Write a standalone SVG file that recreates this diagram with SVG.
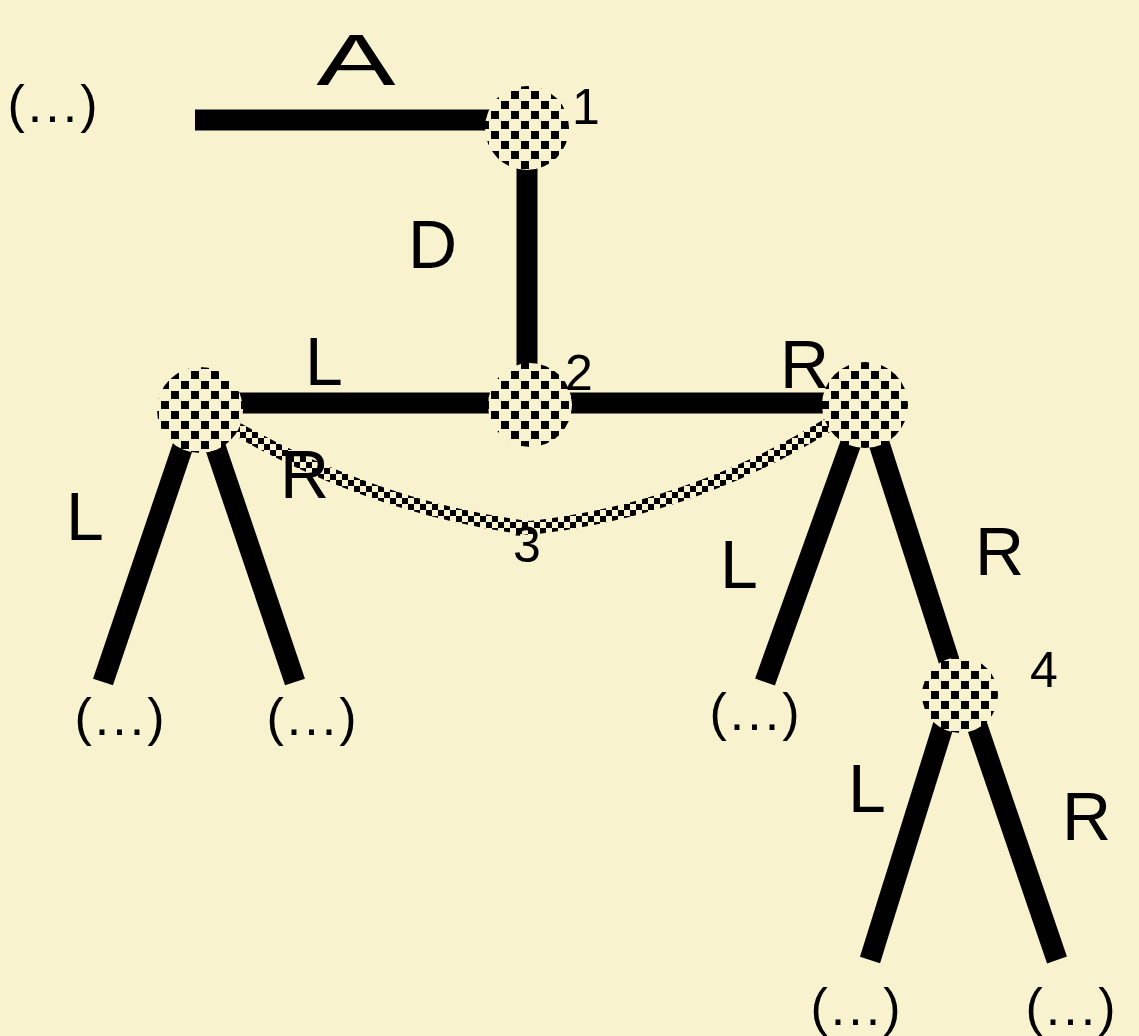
<svg xmlns="http://www.w3.org/2000/svg" width="1139" height="1036" viewBox="0 0 1139 1036">
<defs>
<pattern id="chk" width="20" height="20" patternUnits="userSpaceOnUse">
<rect width="20" height="20" fill="#f8f2cf"/>
<rect x="1" y="1" width="8" height="8" fill="#000"/>
<rect x="11" y="11" width="8" height="8" fill="#000"/>
</pattern>
<pattern id="chk2" width="12" height="12" patternUnits="userSpaceOnUse">
<rect width="12" height="12" fill="#f8f2cf"/>
<rect x="0" y="0" width="6" height="6" fill="#000"/>
<rect x="6" y="6" width="6" height="6" fill="#000"/>
</pattern>
<style>
.e{stroke:#000;stroke-width:21;fill:none}
.n{fill:url(#chk)}
text{font-family:"Liberation Sans","DejaVu Sans",sans-serif;fill:#000}
.big{font-size:68px}
.num{font-size:50px}
.dots{font-size:52px;letter-spacing:3px;text-anchor:middle}
</style>
</defs>
<rect width="1139" height="1036" fill="#f8f2cf"/>
<g id="connectors">
<line class="e" x1="195" y1="120" x2="500" y2="120"/>
<line class="e" x1="527" y1="160" x2="527" y2="385"/>
<line class="e" x1="230" y1="403" x2="840" y2="403"/>
<line class="e" x1="185" y1="440" x2="103" y2="682"/>
<line class="e" x1="213" y1="440" x2="295" y2="682"/>
<line class="e" x1="852" y1="440" x2="765" y2="682"/>
<line class="e" x1="878" y1="440" x2="952" y2="670"/>
<line class="e" x1="945" y1="720" x2="870" y2="960"/>
<line class="e" x1="975" y1="720" x2="1057" y2="960"/>
<path d="M235 428 Q380 510 530 528 Q690 510 828 425" stroke="url(#chk2)" stroke-width="14" fill="none"/>
</g>
<g id="node1"><circle class="n" cx="527" cy="128" r="42"/><text class="num" x="572" y="124">1</text></g>
<g id="node2"><circle class="n" cx="530" cy="405" r="42"/><text class="num" x="565" y="390">2</text></g>
<g id="nodeL"><circle class="n" cx="200" cy="410" r="43"/></g>
<g id="nodeR"><circle class="n" cx="865" cy="405" r="43"/></g>
<g id="node4"><circle class="n" cx="960" cy="695" r="38"/><text class="num" x="1030" y="687">4</text></g>
<g id="node3"><text class="num" x="527" y="562" text-anchor="middle">3</text></g>
<g id="labels">
<text class="dots" x="54" y="122">(...)</text>
<text class="big" transform="translate(356,85) scale(1.75,1.05)" text-anchor="middle">A</text>
<text class="big" x="408" y="268">D</text>
<text class="big" x="305" y="385">L</text>
<text class="big" x="780" y="388">R</text>
<text class="big" x="66" y="540">L</text>
<text class="big" x="280" y="498">R</text>
<text class="big" x="720" y="588">L</text>
<text class="big" x="975" y="575">R</text>
<text class="big" x="848" y="812">L</text>
<text class="big" x="1062" y="840">R</text>
<text class="dots" x="121" y="735">(...)</text>
<text class="dots" x="313" y="735">(...)</text>
<text class="dots" x="756" y="730">(...)</text>
<text class="dots" x="857" y="1025">(...)</text>
<text class="dots" x="1072" y="1025">(...)</text>
</g>
</svg>
